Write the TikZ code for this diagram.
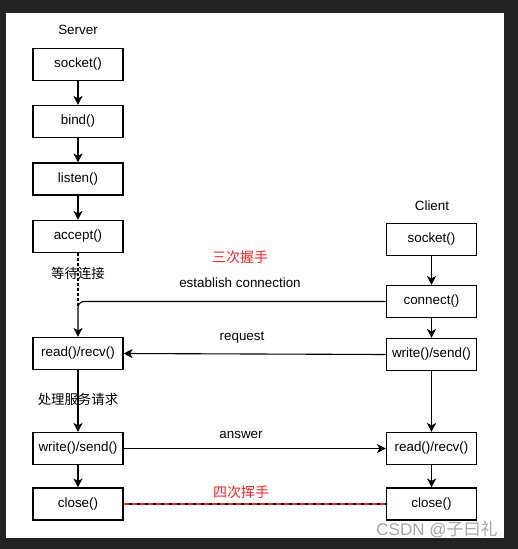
\documentclass[tikz,border=0pt]{standalone}
\usepackage{fontspec}
\setmainfont{Liberation Sans}
\newfontfamily\cjk{Noto Sans CJK SC}
\usetikzlibrary{arrows.meta}
\definecolor{frame}{HTML}{222222}
\definecolor{hand}{HTML}{FF2020}
\begin{document}
\begin{tikzpicture}[x=1pt,y=-1pt,
  fbox/.style={draw=black,line width=1.1pt,fill=white,minimum width=90pt,minimum height=32pt,inner sep=0pt,font=\fontsize{13.4}{15}\selectfont},
  lbl/.style={font=\fontsize{13.4}{15}\selectfont,inner sep=0pt},
  cn/.style={font=\cjk\fontsize{13.4}{15}\selectfont,inner sep=0pt},
  redcn/.style={font=\cjk\fontsize{14}{16}\selectfont,inner sep=0pt,text=hand},
  arr/.style={line width=1.1pt,-{Stealth[length=9pt,width=9pt,inset=2.5pt]}},
  ln/.style={line width=1.1pt}]
\useasboundingbox (0,0) rectangle (518,549);
\fill[frame] (0,0) rectangle (518,549);
\fill[white] (6,13) rectangle (504,538);

% titles
\node[lbl] (server) at (78,30) {Server};
\node[lbl] (client) at (432,206) {Client};

% server column
\node[fbox] (ssocket) at (78,64.5) {socket()};
\node[fbox] (sbind) at (78,121.5) {bind()};
\node[fbox] (slisten) at (78,179) {listen()};
\node[fbox] (saccept) at (78,236.5) {accept()};
\node[fbox] (sread) at (78,353.5) {read()/recv()};
\node[fbox] (swrite) at (78,448.5) {write()/send()};
\node[fbox] (sclose) at (78,504) {close()};

% client column
\node[fbox] (csocket) at (431.5,239.5) {socket()};
\node[fbox] (cconnect) at (431.5,301.5) {connect()};
\node[fbox] (cwrite) at (431.5,354.5) {write()/send()};
\node[fbox] (cread) at (431.5,448.5) {read()/recv()};
\node[fbox] (cclose) at (431.5,504) {close()};

% vertical arrows
\draw[arr] (ssocket) -- (sbind);
\draw[arr] (sbind) -- (slisten);
\draw[arr] (slisten) -- (saccept);
\draw[arr] (sread) -- (swrite);
\draw[arr] (swrite) -- (sclose);
\draw[arr] (csocket) -- (cconnect);
\draw[arr] (cconnect) -- (cwrite);
\draw[arr] (cwrite) -- (cread);
\draw[arr] (cread) -- (cclose);

% waiting
\coordinate (wait) at (78,301.5);
\coordinate (waitend) at (78,308);
\draw[ln,dash pattern=on 3pt off 2pt] (saccept.south) -- (waitend);
\node[cn] (waitlbl) at (78,273) {等待连接};

% establish connection
\draw[arr,rounded corners=6pt] (cconnect.west) -- (wait) -- (sread.north);
\node[lbl] (estlbl) at (240,283) {establish connection};
\node[redcn] (three) at (240,257) {三次握手};

% request
\draw[arr] (cwrite.west) -- (sread.east);
\node[lbl] (reqlbl) at (242,338) {request};

% processing
\node[cn] (proc) at (78,399) {处理服务请求};

% answer
\draw[arr] (swrite.east) -- (cread.west);
\node[lbl] (anslbl) at (241,435) {answer};

% close
\draw[ln] (sclose.east) -- (cclose.west);
\draw[line width=1.1pt,hand,dash pattern=on 5pt off 3pt] (sclose.east) -- (cclose.west);
\node[redcn] (four) at (241,492) {四次挥手};

% watermark
\node[inner sep=0pt,text=gray!70,font=\fontsize{17}{19}\selectfont] (wm) at (437,530) {CSDN @{\cjk 子曰礼}};
\end{tikzpicture}
\end{document}
